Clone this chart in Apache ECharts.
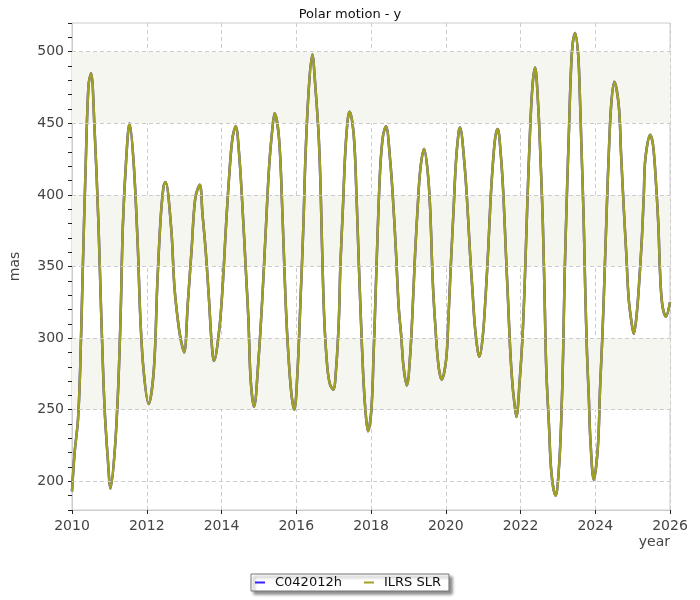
<!DOCTYPE html>
<html>
<head>
<meta charset="utf-8">
<script src="https://cdn.jsdelivr.net/npm/echarts@6/dist/echarts.min.js"></script>
<style>
html,body{margin:0;padding:0;background:#fff;}
#chart{width:700px;height:600px;}
</style>
</head>
<body>
<div id="chart"></div>
<script>
// ---- data ----
const years = [
2010.00,2010.07,2010.16,2010.22,2010.29,2010.36,2010.44,2010.51,
2010.60,2010.71,2010.78,2010.87,2010.96,2011.03,
2011.14,2011.23,2011.30,2011.36,2011.45,2011.54,
2011.65,2011.76,2011.83,2011.92,2012.05,
2012.19,2012.28,2012.37,2012.45,2012.50,
2012.65,2012.74,2012.83,2012.91,2013.00,
2013.10,2013.20,2013.30,2013.42,
2013.49,2013.58,2013.67,2013.73,2013.80,
2013.94,2014.03,2014.12,2014.20,2014.29,2014.38,
2014.47,2014.56,2014.65,2014.72,2014.78,2014.87,
2014.99,2015.09,2015.18,2015.27,2015.36,2015.42,
2015.54,2015.63,2015.70,2015.76,2015.83,2015.89,2015.95,
2016.03,2016.11,2016.19,2016.25,2016.34,2016.43,
2016.51,2016.60,2016.65,2016.69,2016.75,2016.83,2016.90,2016.99,
2017.07,2017.14,2017.18,2017.25,2017.31,2017.38,2017.43,
2017.54,2017.61,2017.67,2017.73,2017.79,2017.85,2017.92,
2018.01,2018.07,2018.13,2018.19,2018.25,2018.32,2018.40,
2018.51,2018.60,2018.67,2018.74,2018.81,2018.87,2018.96,
2019.05,2019.12,2019.18,2019.25,2019.32,2019.42,
2019.51,2019.58,2019.65,2019.71,2019.80,2019.89,
2020.01,2020.07,2020.13,2020.21,2020.27,2020.34,2020.38,
2020.49,2020.58,2020.65,2020.72,2020.78,2020.85,2020.90,
2020.99,2021.07,2021.14,2021.20,2021.27,2021.33,2021.39,
2021.47,2021.54,2021.61,2021.67,2021.73,2021.79,2021.85,2021.89,
2021.98,2022.05,2022.11,2022.18,2022.25,2022.32,2022.39,
2022.47,2022.53,2022.60,2022.65,2022.69,2022.76,2022.83,2022.94,
2023.03,2023.09,2023.14,2023.18,2023.24,2023.30,2023.34,2023.39,2023.46,
2023.54,2023.58,2023.63,2023.69,2023.73,2023.78,2023.83,2023.87,2023.96,
2024.07,2024.13,2024.19,2024.25,2024.31,2024.37,2024.43,2024.51,
2024.63,2024.69,2024.76,2024.83,2024.89,2024.96,2025.03,
2025.11,2025.18,2025.25,2025.30,2025.34,2025.47,
2025.55,2025.63,2025.69,2025.73,2025.79,2025.89,2026.00
];
const slrValues = [
193,220,243,280,350,415,476,485,
448,378,318,252,215,195,
220,262,315,378,425,450,
422,364,313,276,254,
278,336,383,406,409,
378,336,313,299,290,
325,362,398,407,
387,360,325,299,284,
306,336,378,411,439,448,
429,392,348,313,271,252,
285,327,373,418,446,457,
439,387,336,301,273,257,250,
275,324,378,429,476,498,
476,441,406,364,313,280,268,264,
280,313,350,392,429,453,458,
441,401,355,313,275,250,235,
250,289,336,383,420,441,448,
425,392,359,322,301,280,267,
289,324,359,392,418,432,
418,392,341,313,282,271,
285,313,348,390,422,443,447,
425,392,359,331,308,292,287,
301,331,364,397,425,441,446,
429,401,359,324,289,266,252,245,
271,299,336,392,441,476,489,
464,429,378,322,278,240,205,190,
210,243,289,343,399,448,480,504,513,
499,476,434,383,336,289,257,229,201,
224,266,301,345,392,434,464,479,
462,429,392,359,329,313,303,
317,341,371,401,425,442,
434,406,378,348,324,315,325
];
// C042012h coincides with ILRS SLR at this scale
const c04Values = slrValues.slice();

const seriesNames = ['C042012h', 'ILRS SLR'];
const yTickLabels = [200, 250, 300, 350, 400, 450, 500];
const xTickLabels = [2010, 2012, 2014, 2016, 2018, 2020, 2022, 2024, 2026];
const bands = [[250, 300], [350, 400], [450, 500]];

const pair = (vals) => years.map((y, i) => [y, vals[i]]);

const chart = echarts.init(document.getElementById('chart'), null, {renderer: 'canvas'});
const font = 'DejaVu Sans';
chart.setOption({
  animation: false,
  backgroundColor: '#fff',
  title: {
    text: 'Polar motion - y',
    left: 'center', top: 3,
    textStyle: {fontFamily: font, fontSize: 13, fontWeight: 'normal', color: '#111'}
  },
  legend: {
    data: seriesNames,
    left: 251, top: 574,
    orient: 'horizontal',
    padding: [2, 8, 2, 4],
    itemGap: 22,
    itemWidth: 10, itemHeight: 2,
    icon: 'rect',
    backgroundColor: '#fff',
    borderColor: '#777', borderWidth: 1, borderRadius: 0,
    shadowColor: 'rgba(0,0,0,0.45)', shadowBlur: 3, shadowOffsetX: 3, shadowOffsetY: 3,
    textStyle: {fontFamily: font, fontSize: 13, color: '#111', padding: [0, 0, 0, 5]}
  },
  grid: {
    left: 70, right: 30, top: 23, bottom: 90,
    show: true, borderColor: '#ccc', borderWidth: 1, backgroundColor: 'transparent'
  },
  xAxis: {
    type: 'value', min: 2010, max: 2026, interval: 2,
    name: 'year', nameLocation: 'end', nameGap: 0,
    nameTextStyle: {fontFamily: font, fontSize: 14, color: '#444', align: 'right', verticalAlign: 'top', padding: [25, 0, 0, 0]},
    axisLine: {show: true, lineStyle: {color: '#ccc'}},
    axisTick: {show: true, length: 4, lineStyle: {color: '#222'}},
    axisLabel: {fontFamily: font, fontSize: 14, color: '#444', margin: 9,
      formatter: v => xTickLabels.includes(Math.round(v)) ? String(Math.round(v)) : ''},
    splitLine: {show: true, lineStyle: {color: '#ccc', type: [4, 3], width: 1}}
  },
  yAxis: {
    type: 'value', min: 180, max: 520, interval: 10,
    name: 'mas', nameLocation: 'middle', nameGap: 50,
    nameTextStyle: {fontFamily: font, fontSize: 14, color: '#444'},
    axisLine: {show: true, lineStyle: {color: '#ccc'}},
    axisTick: {show: true, length: 4, lineStyle: {color: '#222'}},
    axisLabel: {fontFamily: font, fontSize: 14, color: '#444', margin: 8,
      formatter: v => yTickLabels.includes(Math.round(v)) ? String(Math.round(v)) : ''},
    splitLine: {show: false}
  },
  series: [
    {
      name: seriesNames[0], type: 'line',
      data: pair(c04Values),
      showSymbol: false, smooth: 0.35,
      lineStyle: {color: '#3322ff', width: 2.5},
      itemStyle: {color: '#3322ff'},
      z: 2,
      markArea: {
        silent: true,
        itemStyle: {color: '#f6f6f1'},
        data: bands.map(b => [{yAxis: b[0]}, {yAxis: b[1]}])
      },
      markLine: {
        silent: true, symbol: 'none', label: {show: false},
        lineStyle: {color: '#ccc', type: [4, 3], width: 1},
        data: yTickLabels.map(v => ({yAxis: v}))
      }
    },
    {
      name: seriesNames[1], type: 'line',
      data: pair(slrValues),
      showSymbol: false, smooth: 0.35,
      lineStyle: {color: '#a0a120', width: 2.5},
      itemStyle: {color: '#a0a120'},
      z: 3
    }
  ]
});
</script>
</body>
</html>
